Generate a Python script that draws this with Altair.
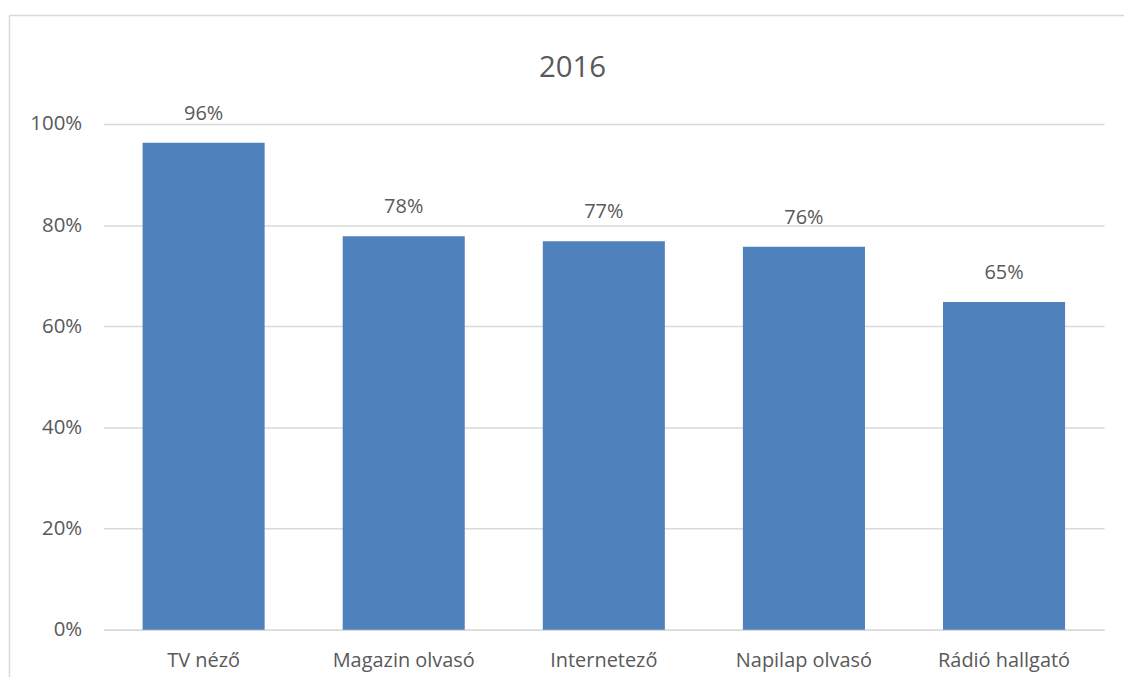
import altair as alt
import pandas as pd

categories = ["TV néző", "Magazin olvasó", "Internetező", "Napilap olvasó", "Rádió hallgató"]
values = [0.963, 0.778, 0.768, 0.757, 0.648]
title_text = "2016"
y_ticks = [0, 0.2, 0.4, 0.6, 0.8, 1.0]

df = pd.DataFrame({"cat": categories, "val": values})

FONT = "Open Sans"
GRAY = "#595959"
GRID = "#d9d9d9"

base = alt.Chart(df)

bars = base.mark_bar(color="#4f81bd").encode(
    x=alt.X("cat:N", sort=categories, title=None,
            scale=alt.Scale(paddingInner=0.39, paddingOuter=0.195),
            axis=alt.Axis(labelAngle=0, labelFontSize=20, labelColor=GRAY, labelFont=FONT,
                          ticks=False, domainColor=GRID, domainWidth=1.5, labelPadding=21)),
    y=alt.Y("val:Q", title=None, scale=alt.Scale(domain=[0, 1], nice=False),
            axis=alt.Axis(format=".0%", values=y_ticks, labelFontSize=20.5, labelColor=GRAY,
                          labelFont=FONT, ticks=False, domain=False, gridColor=GRID,
                          gridWidth=1.5, labelPadding=22)),
)

labels = base.mark_text(baseline="bottom", dy=-19, fontSize=20, font=FONT, color=GRAY).encode(
    x=alt.X("cat:N", sort=categories),
    y=alt.Y("val:Q"),
    text=alt.Text("val:Q", format=".0%"),
)

frame_df = pd.DataFrame({"k": [0]})
left_line = alt.Chart(frame_df).mark_rule(color=GRID, strokeWidth=1.5).encode(
    x=alt.value(-94.5), y=alt.value(-109), y2=alt.value(560)
)
top_line = alt.Chart(frame_df).mark_rule(color=GRID, strokeWidth=1.5).encode(
    x=alt.value(-94.5), x2=alt.value(1040), y=alt.value(-109)
)
title_mark = alt.Chart(frame_df).mark_text(
    fontSize=29.5, font=FONT, color=GRAY, align="center", baseline="alphabetic"
).encode(x=alt.value(471), y=alt.value(-47), text=alt.value(title_text))

chart = alt.layer(left_line, top_line, title_mark, bars, labels).properties(
    width=1005, height=508,
    autosize=alt.AutoSizeParams(type="none"),
    padding={"left": 96, "top": 115, "right": 20, "bottom": 46},
).configure(background="white").configure_view(stroke=None)

chart.save("out.html", embed_options={"renderer": "svg", "actions": False})
